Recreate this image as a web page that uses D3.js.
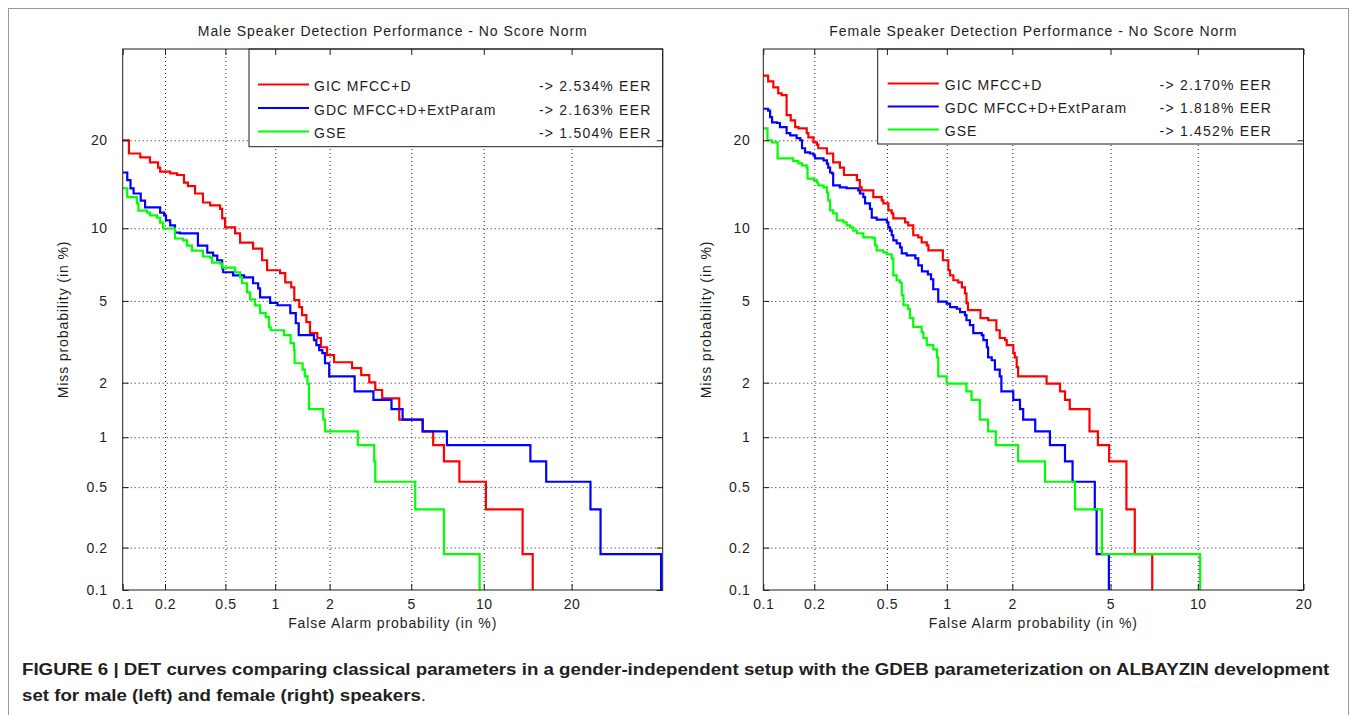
<!DOCTYPE html>
<html><head><meta charset="utf-8">
<script src="https://cdn.jsdelivr.net/npm/d3@7"></script>
<style>
body{margin:0;background:#fff;}
svg{display:block;}
text{font-family:"Liberation Sans",Arial,Helvetica,sans-serif;}
</style></head><body>
<svg id="chart" width="1357" height="715"></svg>
<script>
// ---------------- data (values in %) ----------------
const yTicks = [0.1, 0.2, 0.5, 1, 2, 5, 10, 20];
const xTicksMale = [0.1, 0.2, 0.5, 1, 2, 5, 10, 20];
const xTicksFemale = [0.1, 0.2, 0.5, 1, 2, 5, 10, 20];
const seriesNames = ["GIC MFCC+D", "GDC MFCC+D+ExtParam", "GSE"];
const seriesColors = ["#ff0000", "#0000ff", "#00ff00"];
const eerMale = ["-> 2.534% EER", "-> 2.163% EER", "-> 1.504% EER"];
const eerFemale = ["-> 2.170% EER", "-> 1.818% EER", "-> 1.452% EER"];
const titleMale = "Male Speaker Detection Performance - No Score Norm";
const titleFemale = "Female Speaker Detection Performance - No Score Norm";
const xLabel = "False Alarm probability (in %)";
const yLabel = "Miss probability (in %)";
const captionLine1 = "FIGURE 6 | DET curves comparing classical parameters in a gender-independent setup with the GDEB parameterization on ALBAYZIN development";
const captionLine2 = "set for male (left) and female (right) speakers";

// [false alarm %, miss %]
const maleGIC = [[0.1,20.0],[0.111,18.2],[0.134,17.7],[0.157,17.05],[0.179,16.4],[0.185,15.9],[0.217,15.7],[0.242,15.5],[0.269,14.6],[0.286,14.2],[0.319,13.4],[0.359,12.45],[0.40,12.15],[0.463,11.8],[0.477,10.9],[0.498,10.07],[0.575,9.55],[0.617,8.8],[0.74,8.33],[0.838,7.47],[0.897,6.79],[1.067,6.6],[1.142,6.03],[1.235,5.74],[1.285,5.04],[1.37,4.69],[1.42,4.31],[1.50,4.0],[1.57,3.55],[1.72,3.36],[1.80,3.03],[1.94,2.77],[2.11,2.55],[2.61,2.38],[2.90,2.19],[3.18,2.01],[3.40,1.83],[3.67,1.65],[4.41,1.26],[5.62,1.08],[6.24,0.90],[6.93,0.72],[8.02,0.54],[10.19,0.36],[13.85,0.18],[15.0,0.1]];
const maleGDC = [[0.1,15.8],[0.108,14.9],[0.114,13.95],[0.12,13.4],[0.135,12.65],[0.145,11.96],[0.185,11.45],[0.197,11.17],[0.203,10.7],[0.217,10.25],[0.234,9.63],[0.253,9.55],[0.333,8.56],[0.383,8.03],[0.418,7.81],[0.444,7.47],[0.477,6.92],[0.484,6.66],[0.559,6.46],[0.653,6.34],[0.74,5.98],[0.794,5.68],[0.815,5.18],[0.934,4.9],[1.03,4.78],[1.22,4.4],[1.31,3.95],[1.36,3.47],[1.65,3.28],[1.70,3.1],[1.76,2.93],[1.83,2.83],[1.89,2.52],[1.99,2.16],[2.69,1.80],[3.33,1.62],[4.06,1.44],[4.57,1.26],[5.62,1.08],[7.13,0.90],[14.73,0.72],[16.63,0.54],[22.75,0.36],[24.3,0.18],[34.7,0.1]];
const maleGSE = [[0.1,13.97],[0.108,13.0],[0.127,12.35],[0.13,11.64],[0.15,11.45],[0.157,11.17],[0.176,10.97],[0.185,10.51],[0.194,9.98],[0.234,9.13],[0.265,8.98],[0.282,8.56],[0.304,8.18],[0.359,7.74],[0.40,7.66],[0.412,7.3],[0.463,7.23],[0.477,6.97],[0.575,6.66],[0.617,6.34],[0.635,5.98],[0.681,5.46],[0.71,5.08],[0.761,4.77],[0.815,4.4],[0.88,4.22],[0.92,3.79],[0.941,3.66],[1.125,3.47],[1.225,3.17],[1.28,2.93],[1.29,2.52],[1.43,2.34],[1.47,2.16],[1.52,1.98],[1.55,1.44],[1.85,1.26],[1.89,1.08],[2.79,0.90],[3.36,0.72],[3.40,0.54],[5.21,0.36],[6.93,0.18],[9.64,0.1]];
const femaleGIC = [[0.1,30.2],[0.107,29.2],[0.115,28.2],[0.123,27.2],[0.129,26.9],[0.138,23.7],[0.146,22.9],[0.155,21.9],[0.162,21.7],[0.181,21.0],[0.185,20.4],[0.198,19.7],[0.207,19.4],[0.211,18.9],[0.236,18.2],[0.256,17.05],[0.279,16.4],[0.294,15.5],[0.346,14.9],[0.359,14.07],[0.367,13.74],[0.424,13.0],[0.47,12.67],[0.479,12.37],[0.509,11.66],[0.53,11.37],[0.54,10.9],[0.621,10.53],[0.644,10.26],[0.683,9.4],[0.724,9.23],[0.753,8.82],[0.798,8.58],[0.813,8.2],[0.957,7.47],[1.017,6.79],[1.036,6.46],[1.075,6.16],[1.133,6.03],[1.18,5.74],[1.22,5.4],[1.24,4.89],[1.26,4.54],[1.44,4.17],[1.56,4.08],[1.70,3.66],[1.76,3.36],[1.86,3.28],[1.89,3.10],[2.02,2.83],[2.05,2.7],[2.09,2.41],[2.12,2.16],[2.80,1.98],[3.18,1.80],[3.33,1.62],[3.48,1.44],[4.16,1.08],[4.48,0.90],[4.94,0.72],[5.72,0.36],[6.13,0.18],[7.06,0.1]];
const femaleGDC = [[0.1,24.7],[0.107,24.4],[0.11,23.4],[0.113,22.6],[0.121,22.5],[0.126,21.9],[0.138,21.0],[0.145,20.7],[0.158,20.3],[0.166,20.0],[0.17,18.9],[0.177,18.35],[0.189,18.2],[0.198,17.95],[0.202,17.57],[0.226,17.3],[0.236,16.9],[0.24,16.4],[0.246,15.8],[0.252,15.7],[0.256,14.3],[0.279,14.07],[0.304,13.97],[0.352,13.74],[0.359,13.4],[0.375,13.0],[0.383,12.37],[0.407,11.8],[0.416,10.97],[0.442,10.78],[0.50,10.53],[0.509,10.07],[0.519,9.8],[0.53,9.4],[0.54,8.98],[0.562,8.73],[0.585,8.42],[0.597,7.97],[0.633,7.82],[0.70,7.6],[0.724,7.12],[0.755,6.72],[0.808,6.53],[0.838,6.22],[0.859,5.63],[0.909,4.96],[0.998,4.86],[1.036,4.69],[1.116,4.61],[1.157,4.45],[1.22,4.31],[1.24,4.08],[1.287,3.87],[1.334,3.55],[1.46,3.47],[1.485,3.28],[1.54,3.03],[1.56,2.70],[1.62,2.61],[1.675,2.34],[1.76,2.16],[1.79,1.80],[2.02,1.62],[2.16,1.44],[2.23,1.26],[2.51,1.08],[2.89,0.90],[3.33,0.72],[3.57,0.54],[4.36,0.36],[4.43,0.18],[4.93,0.1]];
const femaleGSE = [[0.1,21.7],[0.106,20.0],[0.113,19.7],[0.122,17.57],[0.151,17.2],[0.162,16.93],[0.17,16.68],[0.181,16.4],[0.183,15.08],[0.198,14.9],[0.207,14.6],[0.211,14.28],[0.226,14.07],[0.236,13.5],[0.24,12.67],[0.246,11.66],[0.256,11.37],[0.268,10.7],[0.292,10.53],[0.304,10.26],[0.318,10.07],[0.331,9.8],[0.346,9.57],[0.375,9.23],[0.424,9.15],[0.433,8.58],[0.442,8.2],[0.479,8.05],[0.50,7.9],[0.53,7.6],[0.54,6.46],[0.562,6.16],[0.585,6.01],[0.597,5.31],[0.609,4.78],[0.644,4.59],[0.657,4.17],[0.683,3.8],[0.753,3.58],[0.768,3.36],[0.798,3.10],[0.859,2.96],[0.895,2.70],[0.909,2.16],[0.998,1.98],[1.24,1.80],[1.31,1.62],[1.43,1.26],[1.56,1.08],[1.69,0.90],[2.12,0.72],[2.76,0.54],[3.65,0.36],[4.64,0.18],[10.17,0.1]];

// ---------------- helpers ----------------
function probit(p){
  const a=[-3.969683028665376e+01,2.209460984245205e+02,-2.759285104469687e+02,1.383577518672690e+02,-3.066479806614716e+01,2.506628277459239e+00];
  const b=[-5.447609879822406e+01,1.615858368580409e+02,-1.556989798598866e+02,6.680131188771972e+01,-1.328068155288572e+01];
  const c=[-7.784894002430293e-03,-3.223964580411365e-01,-2.400758277161838e+00,-2.549732539343734e+00,4.374664141464968e+00,2.938163982698783e+00];
  const d=[7.784695709041462e-03,3.224671290700398e-01,2.445134137142996e+00,3.754408661907416e+00];
  const pl=0.02425, ph=1-pl;
  if(p<pl){const q=Math.sqrt(-2*Math.log(p));return (((((c[0]*q+c[1])*q+c[2])*q+c[3])*q+c[4])*q+c[5])/((((d[0]*q+d[1])*q+d[2])*q+d[3])*q+1);}
  if(p<=ph){const q=p-0.5,r=q*q;return (((((a[0]*r+a[1])*r+a[2])*r+a[3])*r+a[4])*r+a[5])*q/(((((b[0]*r+b[1])*r+b[2])*r+b[3])*r+b[4])*r+1);}
  const q=Math.sqrt(-2*Math.log(1-p));return -(((((c[0]*q+c[1])*q+c[2])*q+c[3])*q+c[4])*q+c[5])/((((d[0]*q+d[1])*q+d[2])*q+d[3])*q+1);
}

const FONT = '"Liberation Sans", Arial, Helvetica, sans-serif';
const INK = "#1e1e1e";
const yTop = 49, yBot = 590, yMin = 0.1, yMax = 35;

const panels = [
  {title:titleMale, x0:122.7, x1:662.7, xMax:35, xTicks:xTicksMale,
   data:[maleGIC, maleGDC, maleGSE], eer:eerMale,
   leg:{x0:249, y1:146.7, lx0:258, lx1:309, tx:314, ex:539, rows:[84.5,108,131.5]},
   ylabX:68, ypad:15},
  {title:titleFemale, x0:763.3, x1:1303.5, xMax:20, xTicks:xTicksFemale,
   data:[femaleGIC, femaleGDC, femaleGSE], eer:eerFemale,
   leg:{x0:877.7, y1:144, lx0:887.7, lx1:938.8, tx:944.8, ex:1159.6, rows:[83.5,106.5,129.5]},
   ylabX:711, ypad:13}
];

const svg = d3.select("#chart");
svg.append("rect").attr("width",1357).attr("height",715).attr("fill","#fff");
svg.append("rect").attr("x",8.5).attr("y",8.5).attr("width",1340).attr("height",760)
  .attr("fill","none").attr("stroke","#9a9a9a");

panels.forEach((p, pi) => {
  const g = svg.append("g");
  const xs = d3.scaleLinear().domain([probit(yMin/100), probit(p.xMax/100)]).range([p.x0, p.x1]);
  const ys = d3.scaleLinear().domain([probit(yMin/100), probit(yMax/100)]).range([yBot, yTop]);
  const px = v => xs(probit(v/100)), py = v => ys(probit(v/100));
  const w = p.x1 - p.x0, h = yBot - yTop;

  // grid
  const gx = p.xTicks.filter(v => v > 0.1 && v < p.xMax);
  const gy = yTicks.filter(v => v > 0.1 && v < yMax);
  const gridStyle = s => { s.select(".domain").remove();
    s.selectAll("line").attr("stroke","#222").attr("stroke-width",1).attr("stroke-dasharray","1,3"); };
  g.append("g").attr("transform",`translate(0,${yBot})`)
    .call(d3.axisBottom(xs).tickValues(gx.map(v=>probit(v/100))).tickSize(-h).tickFormat(""))
    .call(gridStyle);
  g.append("g").attr("transform",`translate(${p.x0},0)`)
    .call(d3.axisLeft(ys).tickValues(gy.map(v=>probit(v/100))).tickSize(-w).tickFormat(""))
    .call(gridStyle);

  // curves
  const clipId = "clip" + pi;
  g.append("clipPath").attr("id", clipId).append("rect")
    .attr("x", p.x0).attr("y", yTop).attr("width", w).attr("height", h);
  const line = d3.line().x(d => px(d[0])).y(d => py(d[1])).curve(d3.curveStepAfter);
  p.data.forEach((ser, i) => {
    g.append("path").attr("d", line(ser)).attr("fill","none")
      .attr("stroke", seriesColors[i]).attr("stroke-width", 2.2)
      .attr("clip-path", `url(#${clipId})`);
  });

  // legend
  const L = p.leg;
  g.append("rect").attr("x", L.x0).attr("y", yTop).attr("width", p.x1 - L.x0).attr("height", L.y1 - yTop)
    .attr("fill","#fff").attr("stroke", INK);
  seriesNames.forEach((name, i) => {
    const yy = L.rows[i];
    g.append("line").attr("x1", L.lx0).attr("x2", L.lx1).attr("y1", yy).attr("y2", yy)
      .attr("stroke", seriesColors[i]).attr("stroke-width", 2.2);
    g.append("text").attr("x", L.tx).attr("y", yy + 6.5).text(name)
      .attr("font-size", 14).attr("fill", INK).style("letter-spacing","1px");
    g.append("text").attr("x", L.ex).attr("y", yy + 6.5).text(p.eer[i])
      .attr("font-size", 14).attr("fill", INK).style("letter-spacing","1.2px");
  });

  // axes box
  g.append("rect").attr("x", p.x0).attr("y", yTop).attr("width", w).attr("height", h)
    .attr("fill","none").attr("stroke", INK);

  const tx = p.xTicks.map(v => probit(v/100));
  const ty = yTicks.map(v => probit(v/100));
  const styleAxis = s => {
    s.select(".domain").remove();
    s.attr("font-family", FONT).attr("font-size", 14);
    s.selectAll("line").attr("stroke", INK);
    s.selectAll("text").attr("fill", INK).style("letter-spacing","0.6px");
  };
  g.append("g").attr("transform",`translate(0,${yBot})`)
    .call(d3.axisBottom(xs).tickValues(tx).tickSizeInner(-6).tickSizeOuter(0).tickPadding(9)
      .tickFormat((d,i) => String(p.xTicks[i]))).call(styleAxis);
  g.append("g").attr("transform",`translate(0,${yTop})`)
    .call(d3.axisTop(xs).tickValues(tx).tickSizeInner(-6).tickSizeOuter(0).tickFormat("")).call(styleAxis);
  g.append("g").attr("transform",`translate(${p.x0},0)`)
    .call(d3.axisLeft(ys).tickValues(ty).tickSizeInner(-6).tickSizeOuter(0).tickPadding(p.ypad)
      .tickFormat((d,i) => String(yTicks[i]))).call(styleAxis);
  g.append("g").attr("transform",`translate(${p.x1},0)`)
    .call(d3.axisRight(ys).tickValues(ty).tickSizeInner(-6).tickSizeOuter(0).tickFormat("")).call(styleAxis);

  // titles & labels
  const cx = (p.x0 + p.x1) / 2;
  g.append("text").attr("x", cx).attr("y", 36).attr("text-anchor","middle")
    .attr("font-size", 14).attr("fill", INK).style("letter-spacing","0.95px").text(p.title);
  g.append("text").attr("x", cx).attr("y", 628).attr("text-anchor","middle")
    .attr("font-size", 14).attr("fill", INK).style("letter-spacing","0.9px").text(xLabel);
  g.append("text").attr("transform", `translate(${p.ylabX},${(yTop+yBot)/2}) rotate(-90)`)
    .attr("text-anchor","middle").attr("font-size", 14).attr("fill", INK)
    .style("letter-spacing","0.9px").text(yLabel);
});

// caption
const cap = svg.append("g");
const l1 = cap.append("text").attr("x", 0).attr("y", 675).attr("font-weight","bold")
  .attr("font-size", 16.5).attr("fill", "#231f20").text(captionLine1);
const nat = l1.node().getComputedTextLength();
const r = 1308 / nat;
cap.attr("transform", `translate(22,0) scale(${r},1)`);
const l2 = cap.append("text").attr("x", 0).attr("y", 701).attr("font-size", 16.5).attr("fill", "#231f20");
l2.append("tspan").attr("font-weight","bold").text(captionLine2);
l2.append("tspan").text(".");
</script>
</body></html>
